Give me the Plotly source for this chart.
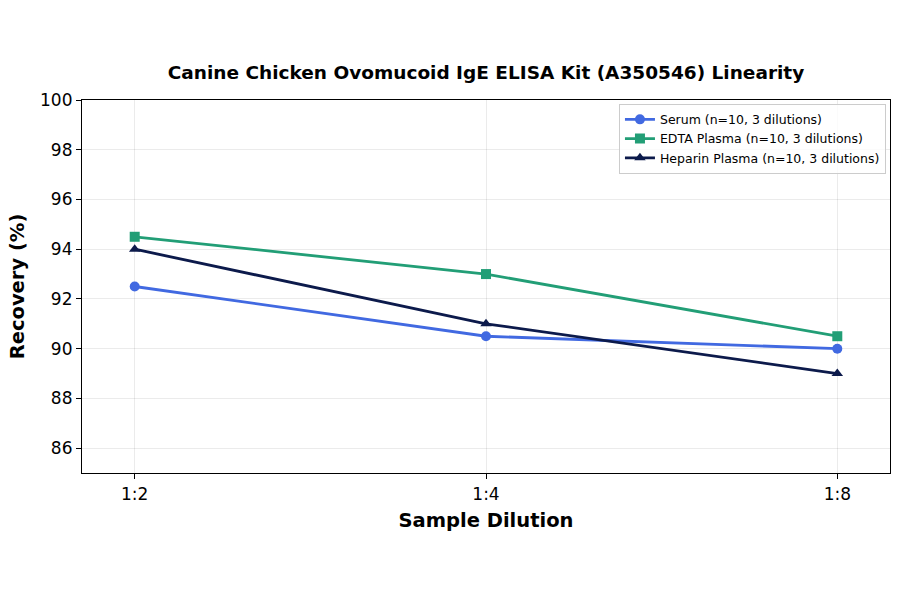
import plotly.graph_objects as go

dilutions = ["1:2", "1:4", "1:8"]
serum = [92.5, 90.5, 90.0]
edta = [94.5, 93.0, 90.5]
heparin = [94.0, 91.0, 89.0]

names = ["Serum (n=10, 3 dilutions)", "EDTA Plasma (n=10, 3 dilutions)", "Heparin Plasma (n=10, 3 dilutions)"]
colors = ["#4169E1", "#229E76", "#0C1A4B"]
symbols = ["circle", "square", "triangle-up"]

fig = go.Figure()
for name, vals, c, s in zip(names, [serum, edta, heparin], colors, symbols):
    fig.add_trace(go.Scatter(
        x=[0, 1, 2], y=vals, name=name, mode="lines+markers",
        line=dict(color=c, width=2.8),
        marker=dict(symbol=s, size=10, color=c),
    ))

font = "DejaVu Sans"
fig.update_layout(
    width=900, height=594, autosize=False,
    paper_bgcolor="white", plot_bgcolor="white",
    margin=dict(l=82, r=10, t=100, b=121, autoexpand=False),
    font=dict(family=font, color="black"),
    title=dict(text="<b>Canine Chicken Ovomucoid IgE ELISA Kit (A350546) Linearity</b>",
               x=0.54, xanchor="center", y=0.878, yanchor="middle",
               font=dict(size=18.5, family=font)),
    xaxis=dict(range=[-0.15, 2.15], tickmode="array", tickvals=[0, 1, 2], ticktext=dilutions,
               showgrid=True, gridcolor="rgba(0,0,0,0.08)", gridwidth=1,
               showline=True, linecolor="black", linewidth=1.2, mirror=True,
               ticks="outside", ticklen=5, tickcolor="black", tickfont=dict(size=17),
               title=dict(text="<b>Sample Dilution</b>", font=dict(size=19.5), standoff=10),
               zeroline=False),
    yaxis=dict(range=[85, 100], tickvals=[86, 88, 90, 92, 94, 96, 98, 100],
               showgrid=True, gridcolor="rgba(0,0,0,0.08)", gridwidth=1,
               showline=True, linecolor="black", linewidth=1.2, mirror=True,
               ticks="outside", ticklen=5, tickcolor="black", tickfont=dict(size=17),
               title=dict(text="<b>Recovery (%)</b>", font=dict(size=19.5), standoff=10),
               zeroline=False),
    legend=dict(x=0.995, y=0.99, xanchor="right", yanchor="top",
                bgcolor="rgba(255,255,255,0.8)", bordercolor="#CCCCCC", borderwidth=1,
                font=dict(size=12.5), tracegroupgap=0, itemwidth=30),
    showlegend=True,
)

fig.write_html("out.html", config={"displayModeBar": False},
               post_script="document.body.style.margin='0';")
